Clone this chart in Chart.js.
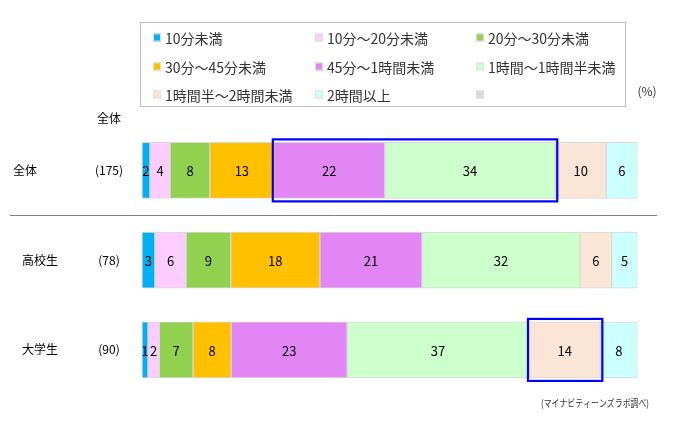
<!DOCTYPE html>
<html>
<head>
<meta charset="utf-8">
<script src="https://cdn.jsdelivr.net/npm/chart.js@4"></script>
<style>
  html, body { margin: 0; padding: 0; background: #fff; }
  #wrap { position: relative; width: 682px; height: 426px; }
</style>
</head>
<body>
<div id="wrap"><canvas id="myChart" width="682" height="426"></canvas></div>
<script>
// groups (rows) and sample sizes
var groups = ['全体', '高校生', '大学生'];
var sizes = ['(175)', '(78)', '(90)'];

// answer categories, in stacking order
var answers = ['10分未満', '10分～20分未満', '20分～30分未満', '30分～45分未満',
  '45分～1時間未満', '1時間～1時間半未満', '1時間半～2時間未満', '2時間以上', ''];
var colors = ['#00B0F0', '#FFCCFF', '#92D050', '#FFC000', '#E286F5',
  '#CCFFCC', '#FBE5D6', '#CCFFFF', '#D9D9D9'];

// shares in % per group (全体, 高校生, 大学生), one list per answer
var lt10   = [1.6, 2.6, 1.2];
var m10_20 = [4.1, 6.3, 2.3];
var m20_30 = [8.0, 9.0, 6.8];
var m30_45 = [12.9, 18.0, 7.7];
var m45_60 = [22.4, 20.6, 23.4];
var h1_15  = [34.4, 31.9, 36.7];
var h15_2  = [10.3, 6.4, 14.4];
var ge2    = [6.3, 5.2, 7.5];
var noAns  = [0, 0, 0];
var values = [lt10, m10_20, m20_30, m30_45, m45_60, h1_15, h15_2, ge2, noAns];

// framed segments: group index, first and last answer index
var highlights = [{g: 0, from: 4, to: 5}, {g: 2, from: 6, to: 6}];

var FONT = '"Noto Sans CJK JP", "Noto Sans", sans-serif';

var datasets = [];
for (var i = 0; i < answers.length; i++) {
  datasets.push({
    label: answers[i],
    data: values[i],
    backgroundColor: colors[i],
    borderColor: '#D9D9D9',
    borderWidth: 1,
    borderSkipped: false,
    barThickness: 56
  });
}

// numbers inside the segments
var segLabels = {
  id: 'segLabels',
  afterDatasetsDraw: function(chart) {
    var ctx = chart.ctx;
    ctx.save();
    ctx.font = '13px ' + FONT;
    ctx.fillStyle = '#000';
    ctx.textAlign = 'center';
    ctx.textBaseline = 'middle';
    chart.data.datasets.forEach(function(ds, di) {
      if (!ds.label) return;
      chart.getDatasetMeta(di).data.forEach(function(bar, j) {
        var v = ds.data[j];
        if (!v) return;
        ctx.fillText(String(Math.round(v)), (bar.x + bar.base) / 2, bar.y + 1);
      });
    });
    ctx.restore();
  }
};

// row names, n column, divider, highlight frames, legend box and notes
var decor = {
  id: 'decor',
  afterDraw: function(chart) {
    var ctx = chart.ctx;
    var xs = chart.scales.x, ys = chart.scales.y;
    ctx.save();
    ctx.fillStyle = '#000';
    ctx.textBaseline = 'middle';
    ctx.font = '12px ' + FONT;

    // header of the n column
    ctx.textAlign = 'center';
    ctx.fillText('全体', 109, 118);

    groups.forEach(function(g, i) {
      var y = ys.getPixelForValue(i);
      ctx.textAlign = 'left';
      ctx.fillText(g, i === 0 ? 13 : 22, y);
      ctx.textAlign = 'center';
      ctx.fillText(sizes[i], 109, y);
    });

    // divider between 全体 and the groups
    var yd = Math.round((ys.getPixelForValue(0) + ys.getPixelForValue(1)) / 2) + 0.5;
    ctx.strokeStyle = '#808080';
    ctx.lineWidth = 1;
    ctx.beginPath();
    ctx.moveTo(10, yd);
    ctx.lineTo(657, yd);
    ctx.stroke();

    // blue frames
    ctx.strokeStyle = '#0000FF';
    ctx.lineWidth = 2.2;
    highlights.forEach(function(h) {
      var first = chart.getDatasetMeta(h.from).data[h.g];
      var last = chart.getDatasetMeta(h.to).data[h.g];
      var x0 = first.base - 1, x1 = last.x + 2;
      var y0 = first.y - first.height / 2 - 3, y1 = first.y + first.height / 2 + 3;
      ctx.strokeRect(x0, y0, x1 - x0, y1 - y0);
    });

    // legend box
    ctx.strokeStyle = '#BFBFBF';
    ctx.lineWidth = 1;
    ctx.strokeRect(140.5, 22.5, 485, 84);
    var colX = [153, 315, 476];
    var rowY = [37.5, 66.5, 94.5];
    ctx.font = '14px ' + FONT;
    ctx.textAlign = 'left';
    chart.data.datasets.forEach(function(ds, i) {
      var x = colX[i % 3], y = rowY[Math.floor(i / 3)];
      ctx.fillStyle = ds.backgroundColor;
      ctx.fillRect(x, y - 4, 8, 8);
      ctx.strokeStyle = '#E0E0E0';
      ctx.strokeRect(x + 0.5, y - 3.5, 7, 7);
      ctx.fillStyle = '#333';
      if (ds.label) ctx.fillText(ds.label, x + 12, y + 1);
    });

    ctx.fillStyle = '#333';
    ctx.font = '12px ' + FONT;
    ctx.textAlign = 'center';
    ctx.fillText('(%)', 647, 91);

    ctx.font = '10px ' + FONT;
    ctx.textAlign = 'left';
    ctx.fillText('(マイナビティーンズラボ調べ)', 541, 403, 108);
    ctx.restore();
  }
};

var ctx = document.getElementById('myChart').getContext('2d');
var myChart = new Chart(ctx, {
  type: 'bar',
  data: { labels: groups, datasets: datasets },
  options: {
    indexAxis: 'y',
    responsive: false,
    animation: false,
    layout: { padding: { left: 142, right: 44.5, top: 125.5, bottom: 31.2 } },
    scales: {
      x: { stacked: true, min: 0, max: 100, display: false },
      y: { stacked: true, display: false }
    },
    plugins: {
      legend: { display: false },
      tooltip: { enabled: false }
    }
  },
  plugins: [segLabels, decor]
});
</script>
</body>
</html>
